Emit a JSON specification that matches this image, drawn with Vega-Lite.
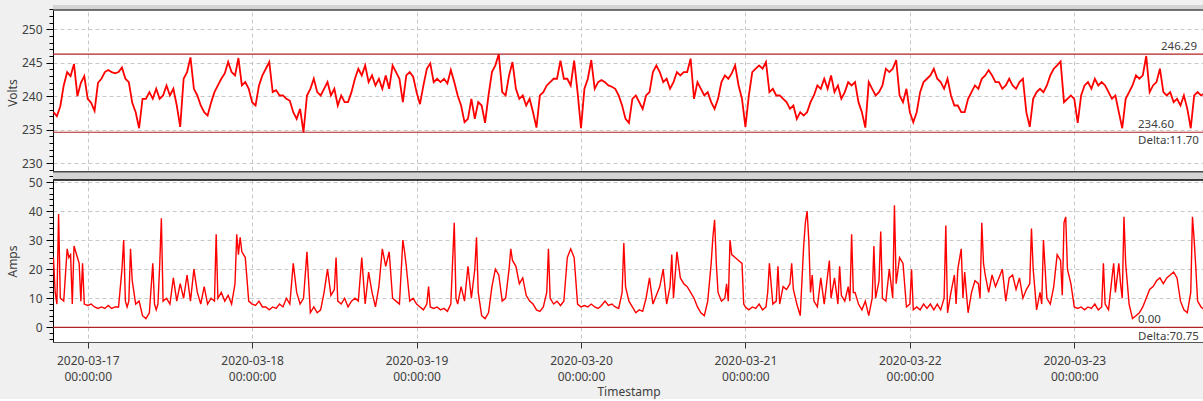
{
"$schema": "https://vega.github.io/schema/vega-lite/v6.json",
"background": "#f0f0f0",
"padding": {"left": 6, "top": 5, "right": 0, "bottom": 2},
"spacing": 0,
"bounds": "flush",
"config": {
  "font": "Noto Sans",
  "view": {"stroke": null, "fill": "#ffffff"},
  "axis": {"labelFont": "Noto Sans", "labelFontSize": 12, "labelColor": "#404040", "titleFont": "Noto Sans", "titleFontSize": 12, "titleFontWeight": "normal", "titleColor": "#404040", "gridColor": "#c8c8c8", "gridDash": [4, 3], "domainColor": "#000000", "tickColor": "#000000", "labelOverlap": false}
},
"datasets": {
"volts": [
{"t":"2020-03-16T19:00","v":237.6},{"t":"2020-03-16T19:30","v":237.0},{"t":"2020-03-16T20:00","v":238.5},{"t":"2020-03-16T20:30","v":241.6},{"t":"2020-03-16T21:00","v":243.6},{"t":"2020-03-16T21:30","v":243.0},{"t":"2020-03-16T22:00","v":244.8},{"t":"2020-03-16T22:30","v":240.0},{"t":"2020-03-16T23:00","v":242.0},{"t":"2020-03-16T23:30","v":243.0},
{"t":"2020-03-17T00:00","v":239.6},{"t":"2020-03-17T00:30","v":239.0},{"t":"2020-03-17T01:00","v":237.8},{"t":"2020-03-17T01:30","v":242.0},{"t":"2020-03-17T02:00","v":242.6},{"t":"2020-03-17T02:30","v":243.6},{"t":"2020-03-17T03:00","v":243.9},{"t":"2020-03-17T03:30","v":243.6},{"t":"2020-03-17T04:00","v":243.4},{"t":"2020-03-17T04:30","v":243.6},{"t":"2020-03-17T05:00","v":244.3},{"t":"2020-03-17T05:30","v":242.6},{"t":"2020-03-17T06:00","v":242.1},{"t":"2020-03-17T06:30","v":239.0},{"t":"2020-03-17T07:00","v":237.6},{"t":"2020-03-17T07:30","v":235.2},{"t":"2020-03-17T08:00","v":239.6},{"t":"2020-03-17T08:30","v":239.6},{"t":"2020-03-17T09:00","v":240.6},{"t":"2020-03-17T09:30","v":239.6},{"t":"2020-03-17T10:00","v":241.1},{"t":"2020-03-17T10:30","v":239.6},{"t":"2020-03-17T11:00","v":240.1},{"t":"2020-03-17T11:30","v":241.6},{"t":"2020-03-17T12:00","v":240.1},{"t":"2020-03-17T12:30","v":241.1},{"t":"2020-03-17T13:00","v":238.6},{"t":"2020-03-17T13:30","v":235.4},{"t":"2020-03-17T14:00","v":242.6},{"t":"2020-03-17T14:30","v":243.6},{"t":"2020-03-17T15:00","v":245.8},{"t":"2020-03-17T15:30","v":241.1},{"t":"2020-03-17T16:00","v":240.1},{"t":"2020-03-17T16:30","v":238.6},{"t":"2020-03-17T17:00","v":237.6},{"t":"2020-03-17T17:30","v":237.1},{"t":"2020-03-17T18:00","v":239.0},{"t":"2020-03-17T18:30","v":240.6},{"t":"2020-03-17T19:00","v":241.6},{"t":"2020-03-17T19:30","v":242.6},{"t":"2020-03-17T20:00","v":243.4},{"t":"2020-03-17T20:30","v":245.1},{"t":"2020-03-17T21:00","v":243.6},{"t":"2020-03-17T21:30","v":243.1},{"t":"2020-03-17T22:00","v":245.7},{"t":"2020-03-17T22:30","v":241.6},{"t":"2020-03-17T23:00","v":242.1},{"t":"2020-03-17T23:30","v":241.1},
{"t":"2020-03-18T00:00","v":239.1},{"t":"2020-03-18T00:30","v":238.6},{"t":"2020-03-18T01:00","v":241.6},{"t":"2020-03-18T01:30","v":243.1},{"t":"2020-03-18T02:00","v":244.1},{"t":"2020-03-18T02:30","v":245.1},{"t":"2020-03-18T03:00","v":240.6},{"t":"2020-03-18T03:30","v":240.9},{"t":"2020-03-18T04:00","v":240.1},{"t":"2020-03-18T04:30","v":240.1},{"t":"2020-03-18T05:00","v":239.6},{"t":"2020-03-18T05:30","v":239.3},{"t":"2020-03-18T06:00","v":237.6},{"t":"2020-03-18T06:30","v":236.6},{"t":"2020-03-18T07:00","v":238.1},{"t":"2020-03-18T07:30","v":234.6},{"t":"2020-03-18T08:00","v":240.1},{"t":"2020-03-18T08:30","v":241.1},{"t":"2020-03-18T09:00","v":242.6},{"t":"2020-03-18T09:30","v":240.6},{"t":"2020-03-18T10:00","v":240.1},{"t":"2020-03-18T10:30","v":241.1},{"t":"2020-03-18T11:00","v":242.1},{"t":"2020-03-18T11:30","v":240.1},{"t":"2020-03-18T12:00","v":241.1},{"t":"2020-03-18T12:30","v":238.6},{"t":"2020-03-18T13:00","v":240.1},{"t":"2020-03-18T13:30","v":239.1},{"t":"2020-03-18T14:00","v":239.1},{"t":"2020-03-18T14:30","v":240.6},{"t":"2020-03-18T15:00","v":242.6},{"t":"2020-03-18T15:30","v":244.1},{"t":"2020-03-18T16:00","v":243.1},{"t":"2020-03-18T16:30","v":244.6},{"t":"2020-03-18T17:00","v":242.1},{"t":"2020-03-18T17:30","v":243.1},{"t":"2020-03-18T18:00","v":241.6},{"t":"2020-03-18T18:30","v":242.6},{"t":"2020-03-18T19:00","v":241.1},{"t":"2020-03-18T19:30","v":243.1},{"t":"2020-03-18T20:00","v":241.1},{"t":"2020-03-18T20:30","v":244.6},{"t":"2020-03-18T21:00","v":243.6},{"t":"2020-03-18T21:30","v":242.6},{"t":"2020-03-18T22:00","v":239.1},{"t":"2020-03-18T22:30","v":243.1},{"t":"2020-03-18T23:00","v":243.6},{"t":"2020-03-18T23:30","v":242.9},
{"t":"2020-03-19T00:00","v":240.6},{"t":"2020-03-19T00:30","v":238.8},{"t":"2020-03-19T01:00","v":241.6},{"t":"2020-03-19T01:30","v":244.1},{"t":"2020-03-19T02:00","v":244.9},{"t":"2020-03-19T02:30","v":242.1},{"t":"2020-03-19T03:00","v":242.6},{"t":"2020-03-19T03:30","v":242.1},{"t":"2020-03-19T04:00","v":242.6},{"t":"2020-03-19T04:30","v":241.9},{"t":"2020-03-19T05:00","v":243.9},{"t":"2020-03-19T05:30","v":242.1},{"t":"2020-03-19T06:00","v":240.1},{"t":"2020-03-19T06:30","v":238.6},{"t":"2020-03-19T07:00","v":236.1},{"t":"2020-03-19T07:30","v":236.6},{"t":"2020-03-19T08:00","v":239.6},{"t":"2020-03-19T08:30","v":236.6},{"t":"2020-03-19T09:00","v":239.1},{"t":"2020-03-19T09:30","v":238.6},{"t":"2020-03-19T10:00","v":236.0},{"t":"2020-03-19T10:30","v":240.1},{"t":"2020-03-19T11:00","v":243.6},{"t":"2020-03-19T11:30","v":244.6},{"t":"2020-03-19T12:00","v":246.29},{"t":"2020-03-19T12:30","v":240.6},{"t":"2020-03-19T13:00","v":240.1},{"t":"2020-03-19T13:30","v":243.1},{"t":"2020-03-19T14:00","v":245.1},{"t":"2020-03-19T14:30","v":241.1},{"t":"2020-03-19T15:00","v":239.6},{"t":"2020-03-19T15:30","v":240.1},{"t":"2020-03-19T16:00","v":238.6},{"t":"2020-03-19T16:30","v":239.6},{"t":"2020-03-19T17:00","v":237.6},{"t":"2020-03-19T17:30","v":235.3},{"t":"2020-03-19T18:00","v":240.1},{"t":"2020-03-19T18:30","v":240.6},{"t":"2020-03-19T19:00","v":241.6},{"t":"2020-03-19T19:30","v":242.1},{"t":"2020-03-19T20:00","v":242.6},{"t":"2020-03-19T20:30","v":242.6},{"t":"2020-03-19T21:00","v":245.3},{"t":"2020-03-19T21:30","v":242.6},{"t":"2020-03-19T22:00","v":242.6},{"t":"2020-03-19T22:30","v":241.6},{"t":"2020-03-19T23:00","v":245.3},{"t":"2020-03-19T23:30","v":240.6},
{"t":"2020-03-20T00:00","v":235.2},{"t":"2020-03-20T00:30","v":241.1},{"t":"2020-03-20T01:00","v":242.6},{"t":"2020-03-20T01:30","v":245.4},{"t":"2020-03-20T02:00","v":241.1},{"t":"2020-03-20T02:30","v":242.1},{"t":"2020-03-20T03:00","v":242.4},{"t":"2020-03-20T03:30","v":242.1},{"t":"2020-03-20T04:00","v":241.6},{"t":"2020-03-20T04:30","v":241.4},{"t":"2020-03-20T05:00","v":241.1},{"t":"2020-03-20T05:30","v":240.1},{"t":"2020-03-20T06:00","v":238.6},{"t":"2020-03-20T06:30","v":236.6},{"t":"2020-03-20T07:00","v":236.0},{"t":"2020-03-20T07:30","v":239.6},{"t":"2020-03-20T08:00","v":240.1},{"t":"2020-03-20T08:30","v":239.1},{"t":"2020-03-20T09:00","v":238.1},{"t":"2020-03-20T09:30","v":240.1},{"t":"2020-03-20T10:00","v":240.6},{"t":"2020-03-20T10:30","v":243.6},{"t":"2020-03-20T11:00","v":244.6},{"t":"2020-03-20T11:30","v":243.6},{"t":"2020-03-20T12:00","v":242.1},{"t":"2020-03-20T12:30","v":242.6},{"t":"2020-03-20T13:00","v":241.1},{"t":"2020-03-20T13:30","v":242.1},{"t":"2020-03-20T14:00","v":243.6},{"t":"2020-03-20T14:30","v":243.1},{"t":"2020-03-20T15:00","v":243.6},{"t":"2020-03-20T15:30","v":243.6},{"t":"2020-03-20T16:00","v":245.6},{"t":"2020-03-20T16:30","v":239.6},{"t":"2020-03-20T17:00","v":242.1},{"t":"2020-03-20T17:30","v":241.1},{"t":"2020-03-20T18:00","v":240.1},{"t":"2020-03-20T18:30","v":240.6},{"t":"2020-03-20T19:00","v":239.1},{"t":"2020-03-20T19:30","v":238.1},{"t":"2020-03-20T20:00","v":239.6},{"t":"2020-03-20T20:30","v":242.1},{"t":"2020-03-20T21:00","v":243.1},{"t":"2020-03-20T21:30","v":242.6},{"t":"2020-03-20T22:00","v":243.4},{"t":"2020-03-20T22:30","v":244.6},{"t":"2020-03-20T23:00","v":241.6},{"t":"2020-03-20T23:30","v":239.6},
{"t":"2020-03-21T00:00","v":235.4},{"t":"2020-03-21T00:30","v":240.1},{"t":"2020-03-21T01:00","v":243.6},{"t":"2020-03-21T01:30","v":244.1},{"t":"2020-03-21T02:00","v":244.6},{"t":"2020-03-21T02:30","v":244.1},{"t":"2020-03-21T03:00","v":245.1},{"t":"2020-03-21T03:30","v":240.6},{"t":"2020-03-21T04:00","v":241.1},{"t":"2020-03-21T04:30","v":240.1},{"t":"2020-03-21T05:00","v":240.1},{"t":"2020-03-21T05:30","v":239.6},{"t":"2020-03-21T06:00","v":239.1},{"t":"2020-03-21T06:30","v":238.1},{"t":"2020-03-21T07:00","v":238.6},{"t":"2020-03-21T07:30","v":236.6},{"t":"2020-03-21T08:00","v":237.6},{"t":"2020-03-21T08:30","v":237.1},{"t":"2020-03-21T09:00","v":237.6},{"t":"2020-03-21T09:30","v":239.1},{"t":"2020-03-21T10:00","v":240.1},{"t":"2020-03-21T10:30","v":241.6},{"t":"2020-03-21T11:00","v":241.1},{"t":"2020-03-21T11:30","v":242.6},{"t":"2020-03-21T12:00","v":241.1},{"t":"2020-03-21T12:30","v":243.1},{"t":"2020-03-21T13:00","v":240.6},{"t":"2020-03-21T13:30","v":241.6},{"t":"2020-03-21T14:00","v":239.6},{"t":"2020-03-21T14:30","v":240.6},{"t":"2020-03-21T15:00","v":242.1},{"t":"2020-03-21T15:30","v":241.6},{"t":"2020-03-21T16:00","v":242.1},{"t":"2020-03-21T16:30","v":239.1},{"t":"2020-03-21T17:00","v":237.6},{"t":"2020-03-21T17:30","v":235.3},{"t":"2020-03-21T18:00","v":242.1},{"t":"2020-03-21T18:30","v":241.1},{"t":"2020-03-21T19:00","v":240.1},{"t":"2020-03-21T19:30","v":240.6},{"t":"2020-03-21T20:00","v":241.6},{"t":"2020-03-21T20:30","v":244.1},{"t":"2020-03-21T21:00","v":243.6},{"t":"2020-03-21T21:30","v":244.1},{"t":"2020-03-21T22:00","v":245.4},{"t":"2020-03-21T22:30","v":240.1},{"t":"2020-03-21T23:00","v":239.1},{"t":"2020-03-21T23:30","v":241.1},
{"t":"2020-03-22T00:00","v":237.6},{"t":"2020-03-22T00:30","v":236.1},{"t":"2020-03-22T01:00","v":237.6},{"t":"2020-03-22T01:30","v":240.6},{"t":"2020-03-22T02:00","v":242.1},{"t":"2020-03-22T02:30","v":242.6},{"t":"2020-03-22T03:00","v":243.1},{"t":"2020-03-22T03:30","v":244.1},{"t":"2020-03-22T04:00","v":242.6},{"t":"2020-03-22T04:30","v":242.1},{"t":"2020-03-22T05:00","v":241.1},{"t":"2020-03-22T05:30","v":242.6},{"t":"2020-03-22T06:00","v":240.1},{"t":"2020-03-22T06:30","v":238.6},{"t":"2020-03-22T07:00","v":238.6},{"t":"2020-03-22T07:30","v":237.6},{"t":"2020-03-22T08:00","v":237.6},{"t":"2020-03-22T08:30","v":239.6},{"t":"2020-03-22T09:00","v":240.6},{"t":"2020-03-22T09:30","v":241.6},{"t":"2020-03-22T10:00","v":241.1},{"t":"2020-03-22T10:30","v":242.6},{"t":"2020-03-22T11:00","v":243.1},{"t":"2020-03-22T11:30","v":243.9},{"t":"2020-03-22T12:00","v":243.1},{"t":"2020-03-22T12:30","v":242.1},{"t":"2020-03-22T13:00","v":242.1},{"t":"2020-03-22T13:30","v":241.1},{"t":"2020-03-22T14:00","v":241.6},{"t":"2020-03-22T14:30","v":242.6},{"t":"2020-03-22T15:00","v":241.6},{"t":"2020-03-22T15:30","v":241.1},{"t":"2020-03-22T16:00","v":242.1},{"t":"2020-03-22T16:30","v":242.6},{"t":"2020-03-22T17:00","v":237.6},{"t":"2020-03-22T17:30","v":235.4},{"t":"2020-03-22T18:00","v":239.6},{"t":"2020-03-22T18:30","v":240.6},{"t":"2020-03-22T19:00","v":241.1},{"t":"2020-03-22T19:30","v":240.6},{"t":"2020-03-22T20:00","v":241.6},{"t":"2020-03-22T20:30","v":243.1},{"t":"2020-03-22T21:00","v":244.1},{"t":"2020-03-22T21:30","v":244.6},{"t":"2020-03-22T22:00","v":245.2},{"t":"2020-03-22T22:30","v":239.1},{"t":"2020-03-22T23:00","v":239.6},{"t":"2020-03-22T23:30","v":240.1},
{"t":"2020-03-23T00:00","v":239.6},{"t":"2020-03-23T00:30","v":236.0},{"t":"2020-03-23T01:00","v":240.1},{"t":"2020-03-23T01:30","v":241.6},{"t":"2020-03-23T02:00","v":242.1},{"t":"2020-03-23T02:30","v":241.1},{"t":"2020-03-23T03:00","v":242.6},{"t":"2020-03-23T03:30","v":241.6},{"t":"2020-03-23T04:00","v":242.1},{"t":"2020-03-23T04:30","v":241.6},{"t":"2020-03-23T05:00","v":240.6},{"t":"2020-03-23T05:30","v":239.6},{"t":"2020-03-23T06:00","v":240.1},{"t":"2020-03-23T06:30","v":237.6},{"t":"2020-03-23T07:00","v":235.2},{"t":"2020-03-23T07:30","v":239.6},{"t":"2020-03-23T08:00","v":240.6},{"t":"2020-03-23T08:30","v":241.6},{"t":"2020-03-23T09:00","v":243.1},{"t":"2020-03-23T09:30","v":242.6},{"t":"2020-03-23T10:00","v":243.1},{"t":"2020-03-23T10:30","v":246.0},{"t":"2020-03-23T11:00","v":240.6},{"t":"2020-03-23T11:30","v":241.6},{"t":"2020-03-23T12:00","v":242.1},{"t":"2020-03-23T12:30","v":244.1},{"t":"2020-03-23T13:00","v":240.6},{"t":"2020-03-23T13:30","v":240.1},{"t":"2020-03-23T14:00","v":240.6},{"t":"2020-03-23T14:30","v":239.1},{"t":"2020-03-23T15:00","v":239.6},{"t":"2020-03-23T15:30","v":238.6},{"t":"2020-03-23T16:00","v":240.1},{"t":"2020-03-23T16:30","v":238.1},{"t":"2020-03-23T17:00","v":235.2},{"t":"2020-03-23T17:30","v":240.1},{"t":"2020-03-23T18:00","v":240.6},{"t":"2020-03-23T18:30","v":240.1},{"t":"2020-03-23T19:00","v":240.4}
],
"amps": [
{"t":"2020-03-16T19:00","a":24},{"t":"2020-03-16T19:15","a":12},{"t":"2020-03-16T19:30","a":8},{"t":"2020-03-16T19:45","a":39},{"t":"2020-03-16T20:00","a":10},{"t":"2020-03-16T20:30","a":9},{"t":"2020-03-16T21:00","a":27},{"t":"2020-03-16T21:15","a":24},{"t":"2020-03-16T21:30","a":25},{"t":"2020-03-16T21:45","a":8},{"t":"2020-03-16T22:00","a":28},{"t":"2020-03-16T22:15","a":26},{"t":"2020-03-16T22:30","a":24},{"t":"2020-03-16T22:45","a":22},{"t":"2020-03-16T23:00","a":9},{"t":"2020-03-16T23:15","a":22},{"t":"2020-03-16T23:30","a":8},
{"t":"2020-03-17T00:00","a":7.5},{"t":"2020-03-17T00:30","a":8},{"t":"2020-03-17T01:00","a":7},{"t":"2020-03-17T01:30","a":6.5},{"t":"2020-03-17T02:00","a":7},{"t":"2020-03-17T02:30","a":6.5},{"t":"2020-03-17T03:00","a":7.5},{"t":"2020-03-17T03:30","a":6.5},{"t":"2020-03-17T04:00","a":7},{"t":"2020-03-17T04:30","a":7},{"t":"2020-03-17T05:00","a":20},{"t":"2020-03-17T05:15","a":30},{"t":"2020-03-17T05:30","a":9},{"t":"2020-03-17T05:45","a":7},{"t":"2020-03-17T06:00","a":9},{"t":"2020-03-17T06:15","a":27},{"t":"2020-03-17T06:30","a":16},{"t":"2020-03-17T06:45","a":12},{"t":"2020-03-17T07:00","a":8},{"t":"2020-03-17T07:30","a":9},{"t":"2020-03-17T08:00","a":4},{"t":"2020-03-17T08:30","a":3},{"t":"2020-03-17T09:00","a":5},{"t":"2020-03-17T09:30","a":22},{"t":"2020-03-17T09:45","a":8},{"t":"2020-03-17T10:00","a":6},{"t":"2020-03-17T10:15","a":8},{"t":"2020-03-17T10:30","a":21},{"t":"2020-03-17T10:45","a":37.5},{"t":"2020-03-17T11:00","a":9},{"t":"2020-03-17T11:30","a":10},{"t":"2020-03-17T12:00","a":8},{"t":"2020-03-17T12:30","a":17},{"t":"2020-03-17T13:00","a":9},{"t":"2020-03-17T13:30","a":15},{"t":"2020-03-17T14:00","a":10},{"t":"2020-03-17T14:30","a":18},{"t":"2020-03-17T15:00","a":9},{"t":"2020-03-17T15:30","a":20},{"t":"2020-03-17T16:00","a":12},{"t":"2020-03-17T16:30","a":8},{"t":"2020-03-17T17:00","a":14},{"t":"2020-03-17T17:30","a":8},{"t":"2020-03-17T18:00","a":10},{"t":"2020-03-17T18:30","a":9},{"t":"2020-03-17T18:45","a":32},{"t":"2020-03-17T19:00","a":10},{"t":"2020-03-17T19:30","a":12},{"t":"2020-03-17T20:00","a":9},{"t":"2020-03-17T20:30","a":11},{"t":"2020-03-17T21:00","a":8},{"t":"2020-03-17T21:30","a":15},{"t":"2020-03-17T21:45","a":32},{"t":"2020-03-17T22:00","a":25},{"t":"2020-03-17T22:15","a":31},{"t":"2020-03-17T22:30","a":26},{"t":"2020-03-17T23:00","a":24},{"t":"2020-03-17T23:30","a":9},
{"t":"2020-03-18T00:00","a":8},{"t":"2020-03-18T00:30","a":7.5},{"t":"2020-03-18T01:00","a":9},{"t":"2020-03-18T01:30","a":7},{"t":"2020-03-18T02:00","a":7},{"t":"2020-03-18T02:30","a":6},{"t":"2020-03-18T03:00","a":7},{"t":"2020-03-18T03:30","a":6.5},{"t":"2020-03-18T04:00","a":8},{"t":"2020-03-18T04:30","a":7},{"t":"2020-03-18T05:00","a":10},{"t":"2020-03-18T05:30","a":8},{"t":"2020-03-18T06:00","a":22},{"t":"2020-03-18T06:30","a":12},{"t":"2020-03-18T07:00","a":8},{"t":"2020-03-18T07:30","a":10},{"t":"2020-03-18T08:00","a":26},{"t":"2020-03-18T08:30","a":5},{"t":"2020-03-18T09:00","a":7},{"t":"2020-03-18T09:30","a":5},{"t":"2020-03-18T10:00","a":6},{"t":"2020-03-18T10:30","a":12},{"t":"2020-03-18T11:00","a":20},{"t":"2020-03-18T11:30","a":11},{"t":"2020-03-18T12:00","a":13},{"t":"2020-03-18T12:15","a":24},{"t":"2020-03-18T12:30","a":9},{"t":"2020-03-18T13:00","a":8},{"t":"2020-03-18T13:30","a":10},{"t":"2020-03-18T14:00","a":7},{"t":"2020-03-18T14:30","a":9},{"t":"2020-03-18T15:00","a":10},{"t":"2020-03-18T15:30","a":9},{"t":"2020-03-18T16:00","a":24},{"t":"2020-03-18T16:30","a":8},{"t":"2020-03-18T17:00","a":19},{"t":"2020-03-18T17:30","a":12},{"t":"2020-03-18T18:00","a":7},{"t":"2020-03-18T18:30","a":14},{"t":"2020-03-18T19:00","a":27},{"t":"2020-03-18T19:30","a":21},{"t":"2020-03-18T20:00","a":26},{"t":"2020-03-18T20:30","a":10},{"t":"2020-03-18T21:00","a":9},{"t":"2020-03-18T21:30","a":8},{"t":"2020-03-18T22:00","a":30},{"t":"2020-03-18T22:15","a":26},{"t":"2020-03-18T22:30","a":21},{"t":"2020-03-18T23:00","a":9},{"t":"2020-03-18T23:30","a":10},
{"t":"2020-03-19T00:00","a":8},{"t":"2020-03-19T00:30","a":7},{"t":"2020-03-19T01:00","a":6},{"t":"2020-03-19T01:30","a":8},{"t":"2020-03-19T01:45","a":14},{"t":"2020-03-19T02:00","a":7},{"t":"2020-03-19T02:30","a":6.5},{"t":"2020-03-19T03:00","a":7},{"t":"2020-03-19T03:30","a":6},{"t":"2020-03-19T04:00","a":6.5},{"t":"2020-03-19T04:30","a":5.5},{"t":"2020-03-19T05:00","a":8},{"t":"2020-03-19T05:15","a":22},{"t":"2020-03-19T05:30","a":36},{"t":"2020-03-19T05:45","a":10},{"t":"2020-03-19T06:00","a":8},{"t":"2020-03-19T06:30","a":14},{"t":"2020-03-19T07:00","a":9},{"t":"2020-03-19T07:30","a":21},{"t":"2020-03-19T08:00","a":10},{"t":"2020-03-19T08:30","a":20},{"t":"2020-03-19T08:45","a":31},{"t":"2020-03-19T09:00","a":12},{"t":"2020-03-19T09:30","a":4},{"t":"2020-03-19T10:00","a":3},{"t":"2020-03-19T10:30","a":5},{"t":"2020-03-19T11:00","a":14},{"t":"2020-03-19T11:30","a":20},{"t":"2020-03-19T12:00","a":18},{"t":"2020-03-19T12:30","a":9},{"t":"2020-03-19T13:00","a":10},{"t":"2020-03-19T13:30","a":20},{"t":"2020-03-19T13:45","a":27},{"t":"2020-03-19T14:00","a":23},{"t":"2020-03-19T14:30","a":21},{"t":"2020-03-19T15:00","a":15},{"t":"2020-03-19T15:30","a":17},{"t":"2020-03-19T16:00","a":11},{"t":"2020-03-19T16:30","a":9},{"t":"2020-03-19T17:00","a":8},{"t":"2020-03-19T17:30","a":6},{"t":"2020-03-19T18:00","a":5.5},{"t":"2020-03-19T18:30","a":7},{"t":"2020-03-19T19:00","a":12},{"t":"2020-03-19T19:15","a":27},{"t":"2020-03-19T19:30","a":10},{"t":"2020-03-19T20:00","a":8},{"t":"2020-03-19T20:30","a":9},{"t":"2020-03-19T21:00","a":7.5},{"t":"2020-03-19T21:30","a":9},{"t":"2020-03-19T22:00","a":24},{"t":"2020-03-19T22:30","a":27},{"t":"2020-03-19T23:00","a":24},{"t":"2020-03-19T23:30","a":8},
{"t":"2020-03-20T00:00","a":7},{"t":"2020-03-20T00:30","a":7.5},{"t":"2020-03-20T01:00","a":7},{"t":"2020-03-20T01:30","a":8},{"t":"2020-03-20T02:00","a":7},{"t":"2020-03-20T02:30","a":6.5},{"t":"2020-03-20T03:00","a":7.5},{"t":"2020-03-20T03:30","a":9},{"t":"2020-03-20T04:00","a":7.5},{"t":"2020-03-20T04:30","a":8},{"t":"2020-03-20T05:00","a":7},{"t":"2020-03-20T05:30","a":6.5},{"t":"2020-03-20T06:00","a":12},{"t":"2020-03-20T06:15","a":29},{"t":"2020-03-20T06:30","a":14},{"t":"2020-03-20T07:00","a":9},{"t":"2020-03-20T07:30","a":7},{"t":"2020-03-20T08:00","a":5},{"t":"2020-03-20T08:30","a":6},{"t":"2020-03-20T09:00","a":5.5},{"t":"2020-03-20T09:30","a":10},{"t":"2020-03-20T10:00","a":17},{"t":"2020-03-20T10:30","a":8},{"t":"2020-03-20T11:00","a":11},{"t":"2020-03-20T11:30","a":14},{"t":"2020-03-20T12:00","a":20},{"t":"2020-03-20T12:30","a":8},{"t":"2020-03-20T13:00","a":14},{"t":"2020-03-20T13:15","a":25},{"t":"2020-03-20T13:30","a":10},{"t":"2020-03-20T14:00","a":26},{"t":"2020-03-20T14:30","a":17},{"t":"2020-03-20T15:00","a":15},{"t":"2020-03-20T15:30","a":14},{"t":"2020-03-20T16:00","a":12},{"t":"2020-03-20T16:30","a":10},{"t":"2020-03-20T17:00","a":7},{"t":"2020-03-20T17:30","a":5},{"t":"2020-03-20T18:00","a":4},{"t":"2020-03-20T18:30","a":9},{"t":"2020-03-20T19:00","a":22},{"t":"2020-03-20T19:15","a":31},{"t":"2020-03-20T19:30","a":37},{"t":"2020-03-20T19:45","a":22},{"t":"2020-03-20T20:00","a":12},{"t":"2020-03-20T20:30","a":9},{"t":"2020-03-20T21:00","a":10},{"t":"2020-03-20T21:15","a":15},{"t":"2020-03-20T21:30","a":9},{"t":"2020-03-20T21:45","a":30},{"t":"2020-03-20T22:00","a":25},{"t":"2020-03-20T22:30","a":24},{"t":"2020-03-20T23:00","a":23},{"t":"2020-03-20T23:30","a":22},{"t":"2020-03-20T23:45","a":8},
{"t":"2020-03-21T00:00","a":7},{"t":"2020-03-21T00:30","a":6},{"t":"2020-03-21T01:00","a":7},{"t":"2020-03-21T01:30","a":6.5},{"t":"2020-03-21T02:00","a":8},{"t":"2020-03-21T02:30","a":6},{"t":"2020-03-21T03:00","a":7},{"t":"2020-03-21T03:15","a":12},{"t":"2020-03-21T03:30","a":22},{"t":"2020-03-21T04:00","a":8},{"t":"2020-03-21T04:30","a":9},{"t":"2020-03-21T04:45","a":21},{"t":"2020-03-21T05:00","a":8},{"t":"2020-03-21T05:30","a":14},{"t":"2020-03-21T06:00","a":13},{"t":"2020-03-21T06:30","a":15},{"t":"2020-03-21T06:45","a":22},{"t":"2020-03-21T07:00","a":13},{"t":"2020-03-21T07:30","a":8},{"t":"2020-03-21T08:00","a":4},{"t":"2020-03-21T08:30","a":28},{"t":"2020-03-21T08:45","a":36},{"t":"2020-03-21T09:00","a":40},{"t":"2020-03-21T09:15","a":30},{"t":"2020-03-21T09:30","a":12},{"t":"2020-03-21T09:45","a":18},{"t":"2020-03-21T10:00","a":9},{"t":"2020-03-21T10:30","a":7},{"t":"2020-03-21T11:00","a":17},{"t":"2020-03-21T11:30","a":8},{"t":"2020-03-21T12:00","a":18},{"t":"2020-03-21T12:15","a":23},{"t":"2020-03-21T12:30","a":10},{"t":"2020-03-21T13:00","a":17},{"t":"2020-03-21T13:30","a":8},{"t":"2020-03-21T13:45","a":21},{"t":"2020-03-21T14:00","a":11},{"t":"2020-03-21T14:30","a":9},{"t":"2020-03-21T15:00","a":14},{"t":"2020-03-21T15:15","a":9},{"t":"2020-03-21T15:30","a":32},{"t":"2020-03-21T15:45","a":12},{"t":"2020-03-21T16:00","a":12},{"t":"2020-03-21T16:30","a":8},{"t":"2020-03-21T17:00","a":6},{"t":"2020-03-21T17:30","a":9},{"t":"2020-03-21T18:00","a":4},{"t":"2020-03-21T18:30","a":10},{"t":"2020-03-21T18:45","a":28},{"t":"2020-03-21T19:00","a":10},{"t":"2020-03-21T19:30","a":16},{"t":"2020-03-21T19:45","a":33},{"t":"2020-03-21T20:00","a":10},{"t":"2020-03-21T20:30","a":9},{"t":"2020-03-21T21:00","a":20},{"t":"2020-03-21T21:30","a":10},{"t":"2020-03-21T21:45","a":42},{"t":"2020-03-21T22:00","a":15},{"t":"2020-03-21T22:30","a":24},{"t":"2020-03-21T23:00","a":22},{"t":"2020-03-21T23:30","a":7},
{"t":"2020-03-22T00:00","a":8},{"t":"2020-03-22T00:15","a":20},{"t":"2020-03-22T00:30","a":6},{"t":"2020-03-22T01:00","a":7},{"t":"2020-03-22T01:30","a":6},{"t":"2020-03-22T02:00","a":8},{"t":"2020-03-22T02:30","a":6.5},{"t":"2020-03-22T03:00","a":8},{"t":"2020-03-22T03:30","a":6},{"t":"2020-03-22T04:00","a":8},{"t":"2020-03-22T04:30","a":6},{"t":"2020-03-22T05:00","a":10},{"t":"2020-03-22T05:15","a":35},{"t":"2020-03-22T05:30","a":5},{"t":"2020-03-22T06:00","a":12},{"t":"2020-03-22T06:30","a":18},{"t":"2020-03-22T06:45","a":8},{"t":"2020-03-22T07:00","a":20},{"t":"2020-03-22T07:30","a":27},{"t":"2020-03-22T07:45","a":10},{"t":"2020-03-22T08:00","a":19},{"t":"2020-03-22T08:30","a":5},{"t":"2020-03-22T09:00","a":12},{"t":"2020-03-22T09:30","a":16},{"t":"2020-03-22T10:00","a":15},{"t":"2020-03-22T10:15","a":10},{"t":"2020-03-22T10:30","a":36},{"t":"2020-03-22T10:45","a":22},{"t":"2020-03-22T11:00","a":18},{"t":"2020-03-22T11:30","a":12},{"t":"2020-03-22T12:00","a":18},{"t":"2020-03-22T12:30","a":14},{"t":"2020-03-22T13:00","a":17},{"t":"2020-03-22T13:30","a":20},{"t":"2020-03-22T14:00","a":9},{"t":"2020-03-22T14:30","a":17},{"t":"2020-03-22T15:00","a":18},{"t":"2020-03-22T15:30","a":13},{"t":"2020-03-22T16:00","a":17},{"t":"2020-03-22T16:30","a":10},{"t":"2020-03-22T17:00","a":13},{"t":"2020-03-22T17:30","a":15},{"t":"2020-03-22T17:45","a":34},{"t":"2020-03-22T18:00","a":20},{"t":"2020-03-22T18:30","a":6},{"t":"2020-03-22T19:00","a":12},{"t":"2020-03-22T19:15","a":8},{"t":"2020-03-22T19:30","a":30},{"t":"2020-03-22T20:00","a":10},{"t":"2020-03-22T20:30","a":8},{"t":"2020-03-22T21:00","a":14},{"t":"2020-03-22T21:30","a":25},{"t":"2020-03-22T22:00","a":23},{"t":"2020-03-22T22:15","a":11},{"t":"2020-03-22T22:30","a":36},{"t":"2020-03-22T22:45","a":38},{"t":"2020-03-22T23:00","a":20},{"t":"2020-03-22T23:30","a":15},
{"t":"2020-03-23T00:00","a":7},{"t":"2020-03-23T00:30","a":6.5},{"t":"2020-03-23T01:00","a":7},{"t":"2020-03-23T01:30","a":6},{"t":"2020-03-23T02:00","a":7},{"t":"2020-03-23T02:30","a":6.5},{"t":"2020-03-23T03:00","a":8},{"t":"2020-03-23T03:30","a":6},{"t":"2020-03-23T04:00","a":7},{"t":"2020-03-23T04:15","a":22},{"t":"2020-03-23T04:30","a":8},{"t":"2020-03-23T05:00","a":6},{"t":"2020-03-23T05:30","a":17},{"t":"2020-03-23T05:45","a":22},{"t":"2020-03-23T06:00","a":12},{"t":"2020-03-23T06:30","a":22},{"t":"2020-03-23T06:45","a":15},{"t":"2020-03-23T07:00","a":10},{"t":"2020-03-23T07:15","a":38},{"t":"2020-03-23T07:30","a":22},{"t":"2020-03-23T08:00","a":8},{"t":"2020-03-23T08:30","a":3},{"t":"2020-03-23T09:00","a":4},{"t":"2020-03-23T09:30","a":5},{"t":"2020-03-23T10:00","a":7},{"t":"2020-03-23T10:30","a":10},{"t":"2020-03-23T11:00","a":13},{"t":"2020-03-23T11:30","a":14},{"t":"2020-03-23T12:00","a":16},{"t":"2020-03-23T12:30","a":17},{"t":"2020-03-23T13:00","a":15},{"t":"2020-03-23T13:30","a":17},{"t":"2020-03-23T14:00","a":18},{"t":"2020-03-23T14:30","a":19},{"t":"2020-03-23T15:00","a":17},{"t":"2020-03-23T15:30","a":9},{"t":"2020-03-23T16:00","a":6},{"t":"2020-03-23T16:30","a":5},{"t":"2020-03-23T17:00","a":12},{"t":"2020-03-23T17:15","a":38},{"t":"2020-03-23T17:30","a":30},{"t":"2020-03-23T17:45","a":20},{"t":"2020-03-23T18:00","a":9},{"t":"2020-03-23T18:30","a":7},{"t":"2020-03-23T19:00","a":6}
]
},
"vconcat": [
{
  "width": 1151,
  "height": 175,
  "resolve": {"axis": {"y": "independent"}},
  "layer": [
    {
      "data": {"name": "volts"},
      "mark": {"type": "line", "color": "#ff0000", "strokeWidth": 1.8, "clip": true},
      "encoding": {
        "x": {"field": "t", "type": "temporal",
              "scale": {"domain": [{"year": 2020, "month": 3, "date": 16, "hours": 18, "minutes": 56}, {"year": 2020, "month": 3, "date": 23, "hours": 18, "minutes": 56}]},
              "axis": {"values": [{"year": 2020, "month": 3, "date": 17}, {"year": 2020, "month": 3, "date": 18}, {"year": 2020, "month": 3, "date": 19}, {"year": 2020, "month": 3, "date": 20}, {"year": 2020, "month": 3, "date": 21}, {"year": 2020, "month": 3, "date": 22}, {"year": 2020, "month": 3, "date": 23}], "labels": false, "ticks": false, "domain": false, "title": null, "grid": true}},
        "y": {"field": "v", "type": "quantitative",
              "scale": {"domain": [227.46, 253.63], "nice": false, "zero": false},
              "axis": {"orient": "left", "values": [230, 235, 240, 245, 250], "labelOverlap": false, "title": "Volts", "grid": true, "tickSize": 7, "labelPadding": 4, "minExtent": 30, "maxExtent": 30, "titlePadding": 4}}
      }
    },
    {
      "data": {"values": [{}]},
      "mark": {"type": "point", "opacity": 0},
      "encoding": {"y": {"datum": 240, "axis": {"orient": "left", "values": [228, 229, 231, 232, 233, 234, 236, 237, 238, 239, 241, 242, 243, 244, 246, 247, 248, 249, 251, 252, 253], "labels": false, "grid": false, "domain": false, "title": null, "tickSize": 4, "minExtent": 0, "maxExtent": 4}}}
    },
    {
      "data": {"values": [{}]},
      "mark": {"type": "rect", "color": "#d4d4d4"},
      "encoding": {"y": {"datum": 253.63, "axis": null}, "y2": {"datum": 252.88}}
    },
    {
      "data": {"values": [{}]},
      "mark": {"type": "rect", "color": "#d4d4d4"},
      "encoding": {"y": {"datum": 228.70, "axis": null}, "y2": {"datum": 227.46}}
    },
    {
      "data": {"values": [{}]},
      "mark": {"type": "rule", "color": "#4a4a4a", "strokeWidth": 1.5},
      "encoding": {"y": {"datum": 252.88, "axis": null}}
    },
    {
      "data": {"values": [{}]},
      "mark": {"type": "rule", "color": "#4a4a4a", "strokeWidth": 1.5},
      "encoding": {"y": {"datum": 228.70, "axis": null}}
    },
    {
      "data": {"values": [{}]},
      "mark": {"type": "rule", "color": "#b22222", "strokeWidth": 1.2},
      "encoding": {"y": {"datum": 246.29, "axis": null}}
    },
    {
      "data": {"values": [{}]},
      "mark": {"type": "rule", "color": "#b22222", "strokeWidth": 1.2},
      "encoding": {"y": {"datum": 234.6, "axis": null}}
    },
    {
      "data": {"values": [{}]},
      "mark": {"type": "text", "text": "246.29", "align": "right", "baseline": "bottom", "dx": -7, "dy": -2, "fontSize": 11.5, "color": "#404040"},
      "encoding": {"x": {"datum": {"year": 2020, "month": 3, "date": 23, "hours": 18, "minutes": 56}, "type": "temporal"}, "y": {"datum": 246.29, "axis": null}}
    },
    {
      "data": {"values": [{}]},
      "mark": {"type": "text", "text": "234.60", "align": "left", "baseline": "bottom", "dx": -66, "dy": -2, "fontSize": 11.5, "color": "#404040"},
      "encoding": {"x": {"datum": {"year": 2020, "month": 3, "date": 23, "hours": 18, "minutes": 56}, "type": "temporal"}, "y": {"datum": 234.6, "axis": null}}
    },
    {
      "data": {"values": [{}]},
      "mark": {"type": "text", "text": "Delta:11.70", "align": "left", "baseline": "top", "dx": -66, "dy": 3, "fontSize": 11.5, "color": "#404040"},
      "encoding": {"x": {"datum": {"year": 2020, "month": 3, "date": 23, "hours": 18, "minutes": 56}, "type": "temporal"}, "y": {"datum": 234.6, "axis": null}}
    }
  ]
},
{
  "width": 1151,
  "height": 162,
  "resolve": {"axis": {"y": "independent"}},
  "layer": [
    {
      "data": {"name": "amps"},
      "mark": {"type": "line", "color": "#ff0000", "strokeWidth": 1.4, "clip": true},
      "encoding": {
        "x": {"field": "t", "type": "temporal",
              "scale": {"domain": [{"year": 2020, "month": 3, "date": 16, "hours": 18, "minutes": 56}, {"year": 2020, "month": 3, "date": 23, "hours": 18, "minutes": 56}]},
              "axis": {"values": [{"year": 2020, "month": 3, "date": 17}, {"year": 2020, "month": 3, "date": 18}, {"year": 2020, "month": 3, "date": 19}, {"year": 2020, "month": 3, "date": 20}, {"year": 2020, "month": 3, "date": 21}, {"year": 2020, "month": 3, "date": 22}, {"year": 2020, "month": 3, "date": 23}],
                       "labelExpr": "[timeFormat(datum.value, '%Y-%m-%d'), timeFormat(datum.value, '%H:%M:%S')]",
                       "labelLineHeight": 16, "tickSize": 6, "labelPadding": 7, "title": "Timestamp", "titlePadding": 4, "grid": true, "domainColor": "#555555", "tickColor": "#333333"}},
        "y": {"field": "a", "type": "quantitative",
              "scale": {"domain": [-5.06, 50.69], "nice": false, "zero": false},
              "axis": {"orient": "left", "values": [0, 10, 20, 30, 40, 50], "labelOverlap": false, "title": "Amps", "grid": true, "tickSize": 7, "labelPadding": 4, "minExtent": 30, "maxExtent": 30, "titlePadding": 4}}
      }
    },
    {
      "data": {"values": [{}]},
      "mark": {"type": "point", "opacity": 0},
      "encoding": {"y": {"datum": 20, "axis": {"orient": "left", "values": [-4, -2, 2, 4, 6, 8, 12, 14, 16, 18, 22, 24, 26, 28, 32, 34, 36, 38, 42, 44, 46, 48], "labels": false, "grid": false, "domain": false, "title": null, "tickSize": 4, "minExtent": 0, "maxExtent": 4}}}
    },
    {
      "data": {"values": [{}]},
      "mark": {"type": "rule", "color": "#000000", "strokeWidth": 1.5},
      "encoding": {"y": {"datum": 50.69, "axis": null}}
    },
    {
      "data": {"values": [{}]},
      "mark": {"type": "rule", "color": "#b22222", "strokeWidth": 1.2},
      "encoding": {"y": {"datum": 0, "axis": null}}
    },
    {
      "data": {"values": [{}]},
      "mark": {"type": "text", "text": "0.00", "align": "left", "baseline": "bottom", "dx": -66, "dy": -2, "fontSize": 11.5, "color": "#404040"},
      "encoding": {"x": {"datum": {"year": 2020, "month": 3, "date": 23, "hours": 18, "minutes": 56}, "type": "temporal"}, "y": {"datum": 0, "axis": null}}
    },
    {
      "data": {"values": [{}]},
      "mark": {"type": "text", "text": "Delta:70.75", "align": "left", "baseline": "top", "dx": -66, "dy": 4, "fontSize": 11.5, "color": "#404040"},
      "encoding": {"x": {"datum": {"year": 2020, "month": 3, "date": 23, "hours": 18, "minutes": 56}, "type": "temporal"}, "y": {"datum": 0, "axis": null}}
    }
  ]
}
]
}
